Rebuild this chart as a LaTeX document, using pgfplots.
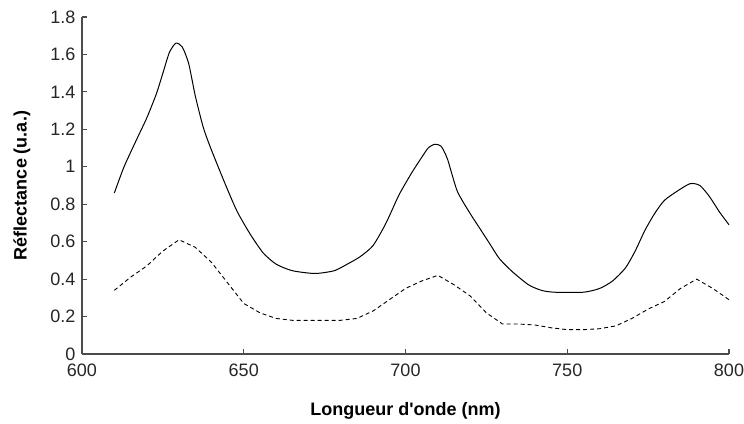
\documentclass[border=0pt]{standalone}
\usepackage{pgfplots}
\pgfplotsset{compat=1.18}
\usepackage{fontspec}
\setmainfont{Liberation Sans}
\usetikzlibrary{calc}
\begin{document}
\begin{tikzpicture}
\begin{axis}[
  scale only axis, width=647pt, height=337pt,
  xmin=600, xmax=800, ymin=0, ymax=1.8,
  axis lines*=left,
  axis line style={-, draw=black!70, line width=1.5pt},
  xtick={600,650,...,800},
  ytick={0,0.2,0.4,0.6,0.8,1,1.2,1.4,1.6,1.8},
  tick align=inside, major tick length=5pt,
  tick style={draw=black!70, line width=1.2pt},
  /pgf/number format/assume math mode=true,
  ticklabel style={font=\fontsize{18}{21}\selectfont, text=black!85},
  yticklabel style={/pgf/number format/fixed, xshift=-3pt},
  xticklabel style={yshift=-6pt},
  label style={font=\fontsize{18}{21}\selectfont\bfseries},
  xlabel={Longueur d\textquotesingle onde (nm)},
  ylabel={Réflectance (u.a.)},
  xlabel style={at={([yshift=-57pt]axis description cs:0.5,0)}, anchor=center},
  ylabel style={at={([xshift=-60pt]axis description cs:0,0.5)}, anchor=center},
  clip=false,
]
\addplot[black, line width=1pt, smooth, tension=0.4] coordinates {
(610,0.86) (613,1.00) (617,1.15) (620,1.26) (623,1.39) (625,1.50) (627,1.61)
(629,1.66) (631,1.64) (633,1.55) (635,1.38) (637.5,1.21) (640,1.09)
(644.7,0.89) (648,0.76) (652,0.64) (656,0.54) (660,0.48) (665,0.445)
(672,0.43) (678,0.445) (682,0.48) (686,0.52) (690,0.58) (694,0.70)
(698,0.85) (702,0.97) (705,1.05) (707,1.10) (709,1.12) (711,1.11)
(713,1.04) (716,0.87) (720,0.75) (723,0.67) (726,0.59) (729,0.51)
(733,0.44) (738,0.37) (742,0.34) (746,0.33) (755,0.33) (760,0.35)
(764,0.39) (768,0.46) (771,0.55) (774,0.66) (777,0.75) (780,0.82)
(784,0.87) (788,0.91) (791,0.90) (794,0.84) (797,0.76) (800,0.69)
};
\addplot[black, line width=0.9pt, dash pattern=on 4pt off 3pt] coordinates {
(610,0.34) (615,0.41) (620,0.47) (625,0.55) (630,0.61) (635,0.57)
(640,0.49) (645,0.38) (650,0.27) (655,0.22) (660,0.19) (665,0.18)
(670,0.18) (675,0.18) (680,0.18) (685,0.19) (690,0.23) (695,0.29)
(700,0.35) (705,0.39) (710,0.42) (715,0.37) (720,0.31) (725,0.22)
(730,0.16) (735,0.16) (740,0.155) (745,0.14) (750,0.13) (755,0.13)
(760,0.135) (765,0.15) (770,0.19) (775,0.24) (780,0.28) (785,0.35)
(790,0.40) (795,0.35) (800,0.29)
};
\end{axis}
\pgfresetboundingbox
\path ($(current axis.south west)+(-82pt,-69pt)$) rectangle ($(current axis.north east)+(15pt,17pt)$);
\end{tikzpicture}
\end{document}
